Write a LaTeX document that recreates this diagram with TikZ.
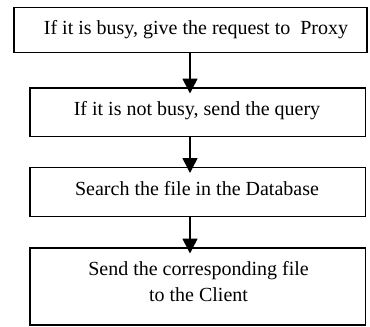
\documentclass[tikz,border=0pt]{standalone}
\usepackage{fontspec}
\setmainfont{Liberation Serif}
\usetikzlibrary{arrows.meta}
\begin{document}
\begin{tikzpicture}[x=1pt,y=-1pt,
  stepbox/.style={draw, line width=1.8pt, inner sep=0pt, outer sep=0pt},
  steptext/.style={inner sep=0pt, font=\fontsize{20}{25.5}\selectfont},
  flow/.style={line width=1.6pt, shorten >=-5.5pt,
               -{Triangle[length=15pt,width=15pt]}}]
\useasboundingbox (0,0) rectangle (370,327);
% frames of the four steps
\node[stepbox, minimum width=353pt,   minimum height=45pt]   (b1) at (190.5,30)     {};
\node[stepbox, minimum width=335.5pt, minimum height=48.5pt] (b2) at (197.75,112.25) {};
\node[stepbox, minimum width=335.5pt, minimum height=49pt]   (b3) at (197.75,192)   {};
\node[stepbox, minimum width=335.5pt, minimum height=77pt]   (b4) at (197.75,286.5) {};
% step texts
\node[steptext, anchor=base]  (t1) at (196,34.7)   {If it is busy, give the request to\ \ Proxy};
\node[steptext, anchor=base]  (t2) at (197,115.7)  {If it is not busy, send the query};
\node[steptext, anchor=base]  (t3) at (197,195.7)  {Search the file in the Database};
\node[steptext, anchor=north, align=center] (t4) at (198.5,261.3)
  {Send the corresponding file\\to the Client};
% connectors
\coordinate (ax) at (190,0);
\draw[flow] (b1.south -| ax) -- (b2.north -| ax);
\draw[flow] (b2.south -| ax) -- (b3.north -| ax);
\draw[flow] (b3.south -| ax) -- (b4.north -| ax);
\end{tikzpicture}
\end{document}
